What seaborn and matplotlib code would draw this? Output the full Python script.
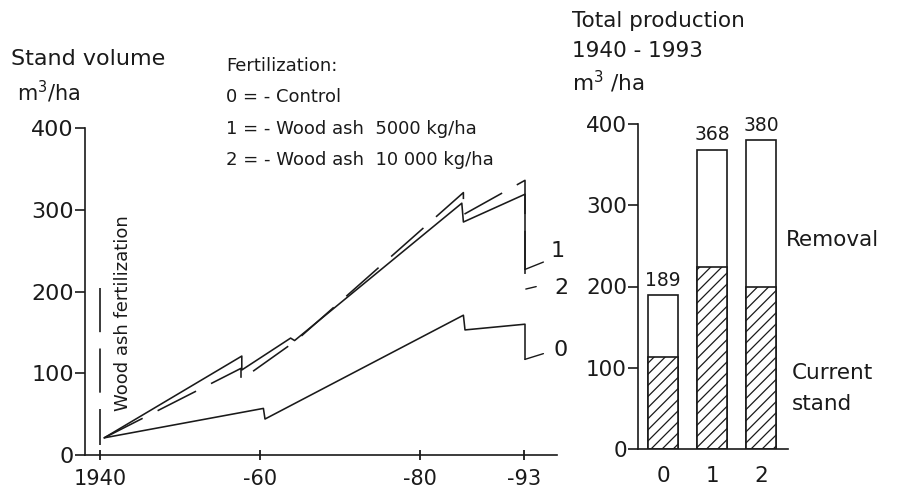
import matplotlib
matplotlib.use("Agg")
import matplotlib.pyplot as plt
import seaborn as sns
import pandas as pd

# ---------------- data ----------------
# Stand volume development (m3/ha)
years_control = [1940.5, 1960.4, 1960.6, 1985.4, 1985.6, 1993.1, 1993.1]
vol_control = [21, 57, 44, 171, 153, 160, 117]

years_ash5000 = [1940.5, 1957.7, 1957.7, 1963.8, 1964.3, 1985.2, 1985.4, 1993.1, 1993.1]
vol_ash5000 = [21, 121, 104, 143, 140, 308, 285, 319, 227]

years_ash10000 = [1940.5, 1957.6, 1957.6, 1964.5, 1985.4, 1985.4, 1993.1, 1993.1]
vol_ash10000 = [21, 106, 92, 140, 321, 294, 336, 203]

xtick_years = [1940, 1960, 1980, 1993]
xtick_labels = ["1940", "-60", "-80", "-93"]
ytick_vals = [0, 100, 200, 300, 400]

# fertilization marker (year, from, to)
fert_year = 1940
fert_span = [204, 12]

# end labels: (label, leader start, leader end, text position)
end_labels = [
    ("1", (1993.1, 227), (1995.4, 236), (1997.2, 249)),
    ("2", (1993.2, 203), (1994.5, 206), (1997.6, 204)),
    ("0", (1993.1, 117), (1995.4, 124), (1997.6, 128)),
]

# Total production 1940-1993
groups = ["0", "1", "2"]
total_prod = [189, 368, 380]
current_stand = [113, 224, 199]

# ---------------- style ----------------
sns.set_theme(style="white")
plt.rcParams["font.family"] = ["DejaVu Sans"]
plt.rcParams["text.color"] = "#1a1a1a"
plt.rcParams["axes.edgecolor"] = "#1a1a1a"
plt.rcParams["xtick.color"] = "#1a1a1a"
plt.rcParams["ytick.color"] = "#1a1a1a"
plt.rcParams["hatch.linewidth"] = 0.9
plt.rcParams["mathtext.fontset"] = "dejavusans"

W, H = 898, 492
fig = plt.figure(figsize=(W / 100, H / 100), dpi=100)
fig.patch.set_facecolor("white")


def px_axes(left, top, right, bottom):
    return fig.add_axes([left / W, 1 - bottom / H, (right - left) / W, (bottom - top) / H])


def ftext(x, y, s, **kw):
    kw.setdefault("va", "center")
    kw.setdefault("ha", "left")
    fig.text(x / W, 1 - y / H, s, **kw)


LC = "#1a1a1a"
LW = 1.15

# ---------------- left: stand volume ----------------
ax = px_axes(85, 128, 557, 455)
df0 = pd.DataFrame({"year": years_control, "vol": vol_control})
df1 = pd.DataFrame({"year": years_ash5000, "vol": vol_ash5000})
df2 = pd.DataFrame({"year": years_ash10000, "vol": vol_ash10000})

sns.lineplot(data=df0, x="year", y="vol", estimator=None, sort=False,
             color=LC, lw=LW, ax=ax)
sns.lineplot(data=df1, x="year", y="vol", estimator=None, sort=False,
             color=LC, lw=LW, ax=ax)
sns.lineplot(data=df2, x="year", y="vol", estimator=None, sort=False,
             color=LC, lw=LW, ax=ax, dashes=False)
ax.lines[-1].set_dashes((27, 10.5))

# fertilization vertical dashed marker
ax.plot([fert_year, fert_year], fert_span, color=LC, lw=1.2, dashes=(26.5, 9.8))
ax.text(fert_year + 2.8, 173, "Wood ash fertilization", rotation=90,
        ha="center", va="center", fontsize=13)

for lab, p0, p1, pt in end_labels:
    ax.plot([p0[0], p1[0]], [p0[1], p1[1]], color=LC, lw=1.0, clip_on=False)
    ax.text(pt[0], pt[1], lab, ha="center", va="center", fontsize=16, clip_on=False)

ax.set_xlim(1938.1, 1997.1)
ax.set_ylim(0, 400)
ax.set_xticks(xtick_years)
ax.set_xticklabels(xtick_labels)
ax.set_yticks(ytick_vals)
ax.set_xlabel("")
ax.set_ylabel("")
sns.despine(ax=ax)
ax.spines["left"].set_linewidth(1.2)
ax.spines["bottom"].set_linewidth(1.2)
ax.tick_params(axis="x", bottom=True, direction="inout", length=7.5, width=1.3,
               labelsize=15, pad=6)
ax.tick_params(axis="y", left=True, direction="out", length=7, width=1.2,
               labelsize=16, pad=1)
ax.patch.set_alpha(0)

# ---------------- right: total production ----------------
axr = px_axes(638, 124, 788, 449)
sns.barplot(x=groups, y=total_prod, color="white", edgecolor=LC,
            linewidth=1.2, width=0.62, ax=axr, saturation=1)
sns.barplot(x=groups, y=current_stand, color="white", edgecolor=LC,
            linewidth=1.2, width=0.62, ax=axr, saturation=1, hatch="///")
axr.bar_label(axr.containers[0], labels=[str(v) for v in total_prod],
              padding=4, fontsize=13.5)
axr.set_xlim(-0.51, 2.55)
axr.set_ylim(0, 400)
axr.set_yticks(ytick_vals)
axr.set_xlabel("")
axr.set_ylabel("")
sns.despine(ax=axr)
axr.spines["left"].set_linewidth(1.2)
axr.spines["bottom"].set_linewidth(1.2)
axr.tick_params(axis="x", bottom=False, length=0, labelsize=15.5, pad=12)
axr.tick_params(axis="y", left=True, direction="out", length=7, width=1.2,
                labelsize=15.5, pad=1)
axr.patch.set_alpha(0)

# ---------------- texts ----------------
ftext(11, 59, "Stand volume", fontsize=16)
ftext(17, 92, r"m$^{3}$/ha", fontsize=15)

ftext(226, 66, "Fertilization:", fontsize=13)
ftext(226, 97, "0 = - Control", fontsize=13)
ftext(226, 129, "1 = - Wood ash  5000 kg/ha", fontsize=13)
ftext(226, 160, "2 = - Wood ash  10 000 kg/ha", fontsize=13)

ftext(572, 21, "Total production", fontsize=15.5)
ftext(572, 51, "1940 - 1993", fontsize=15.5)
ftext(572, 82, r"m$^{3}$ /ha", fontsize=15.5)

ftext(786, 240, "Removal", fontsize=15.5)
ftext(792, 373, "Current", fontsize=15.5)
ftext(792, 404, "stand", fontsize=15.5)

fig.savefig("out.png", dpi=100, facecolor="white")
